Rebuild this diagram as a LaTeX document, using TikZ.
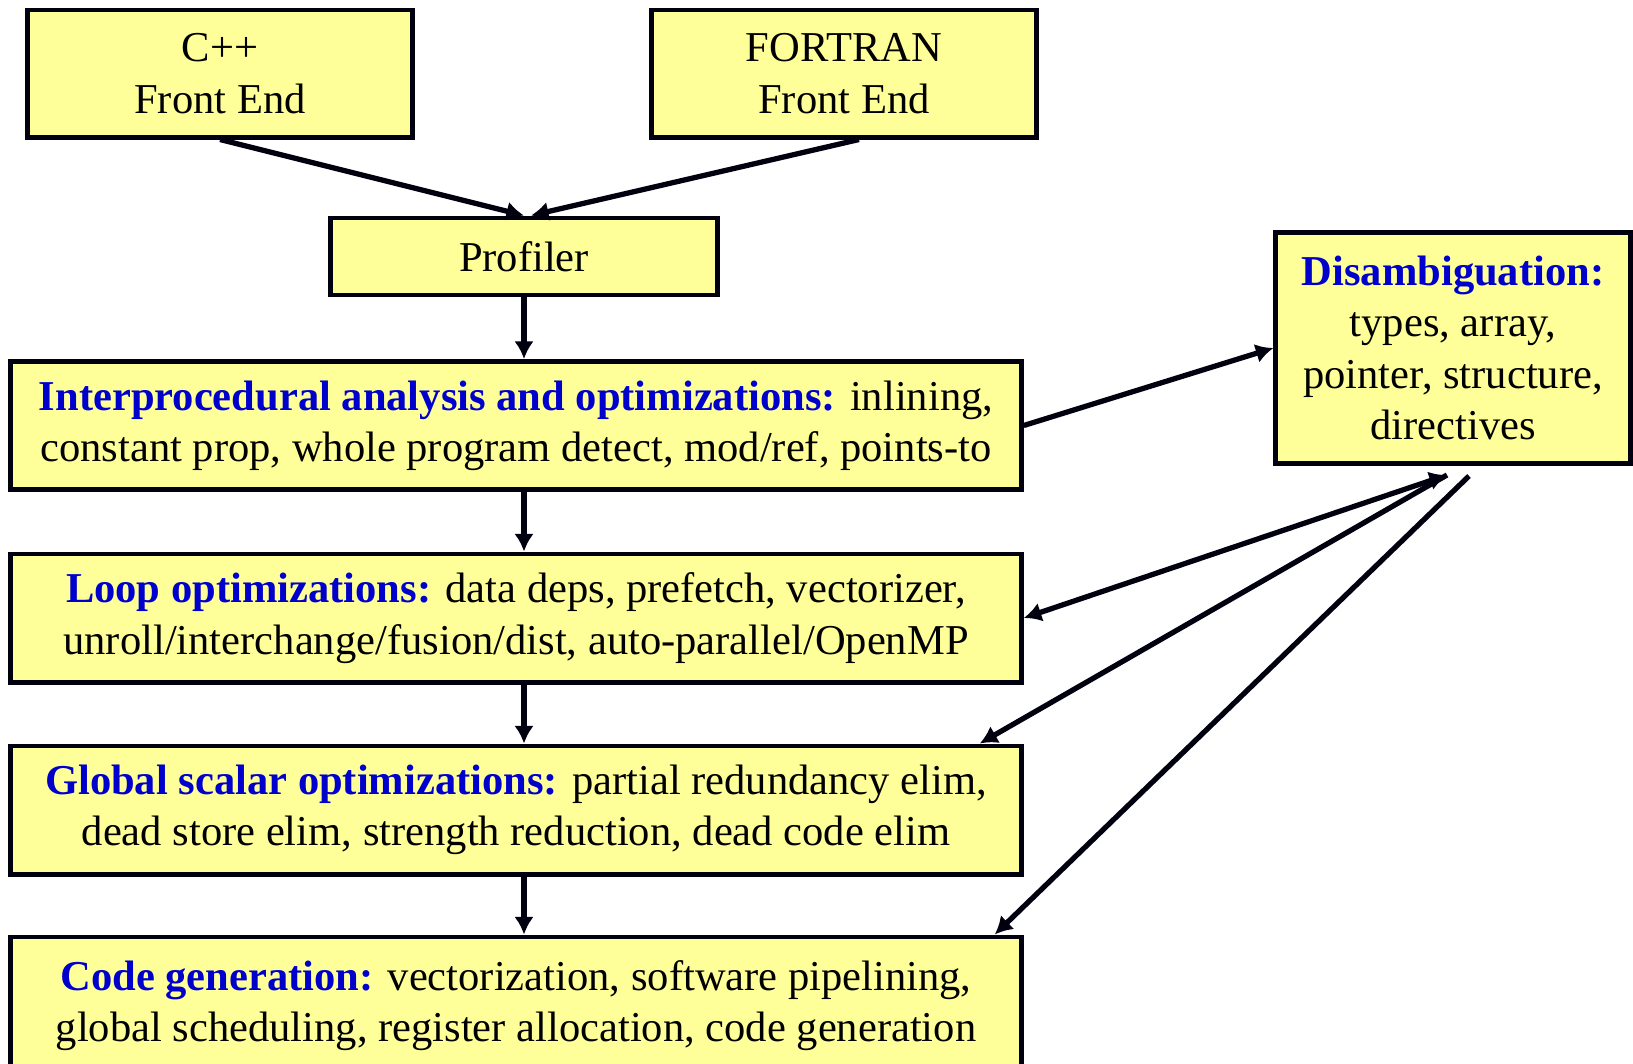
\documentclass[tikz,border=0pt]{standalone}
\usepackage{fontspec}
\setmainfont{Liberation Serif}
\usetikzlibrary{arrows.meta, positioning, calc}
\definecolor{colour_box}{HTML}{FFFF99}
\definecolor{colour_head}{HTML}{0000CC}
\colorlet{colour_line}{black!85!blue!40!black}
\newcommand{\phase}[1]{\textcolor{colour_head}{\bfseries #1}}

\begin{document}
\begin{tikzpicture}
   [
      x=0.01cm, y=-0.01cm,
      box/.style={rectangle, draw=colour_line, line width=1.4pt, fill=colour_box, align=center,
         inner sep=0pt, font=\fontsize{12.1pt}{14.6pt}\selectfont},
      wide box/.style={box, minimum width=10.1cm, minimum height=1.28cm},
      arr/.style={-{Latex[length=5pt, width=5.5pt]}, line width=1.5pt, colour_line},
   ]
   \useasboundingbox (0,0) rectangle (1633,1063);

   % =======================================================
   % Front ends and profiler
   % =======================================================

   \node[box, minimum width=3.85cm, minimum height=1.27cm] (cpp) at (220,73.5) {C++\\Front End};
   \node[box, minimum width=3.85cm, minimum height=1.27cm] (fortran) at (844,73.5) {FORTRAN\\Front End};
   \node[box, minimum width=3.86cm, minimum height=0.77cm] (profiler) at (524,256.5) {Profiler};

   % =======================================================
   % Optimisation phases
   % =======================================================

   \node[wide box] (ipa) at (516,425.5)
      {\phase{Interprocedural analysis and optimizations:} inlining,\\
       constant prop, whole program detect, mod/ref, points-to};
   \node[wide box] (loop) at (516,618)
      {\phase{Loop optimizations:} data deps, prefetch, vectorizer,\\
       unroll/interchange/fusion/dist, auto-parallel/OpenMP};
   \node[wide box] (gsopt) at (516,810)
      {\phase{Global scalar optimizations:} partial redundancy elim,\\
       dead store elim, strength reduction, dead code elim};
   \node[wide box, minimum height=1.35cm, text depth=0.07cm] (codegen) at (516,1004.5)
      {\phase{Code generation:} vectorization, software pipelining,\\
       global scheduling, register allocation, code generation};

   \node[box, minimum width=3.54cm, minimum height=2.3cm] (disamb) at (1453,348)
      {\phase{Disambiguation:}\\types, array,\\pointer, structure,\\directives};

   % =======================================================
   % Arrows
   % =======================================================

   \draw[arr] (cpp.south) -- (profiler.north);
   \draw[arr] ([xshift=0.15cm]fortran.south) -- ([xshift=0.07cm]profiler.north);

   \draw[arr] (profiler.south) -- (profiler.south |- ipa.north);
   \draw[arr] (profiler.south |- ipa.south) -- (profiler.south |- loop.north);
   \draw[arr] (profiler.south |- loop.south) -- (profiler.south |- gsopt.north);
   \draw[arr] (profiler.south |- gsopt.south) -- (profiler.south |- codegen.north);

   \coordinate (hub) at (1447,475);
   \coordinate (hub2) at (1469,476);

   \draw[arr] (ipa.east) -- (disamb.west);
   \draw[arr, {Latex[length=5pt, width=5.5pt]}-{Latex[length=5pt, width=5.5pt]}] (hub) -- (loop.east);
   \draw[arr] (hub) -- ([xshift=-0.44cm]gsopt.north east);
   \draw[arr] (hub2) -- ([xshift=-0.29cm]codegen.north east);

\end{tikzpicture}
\end{document}
